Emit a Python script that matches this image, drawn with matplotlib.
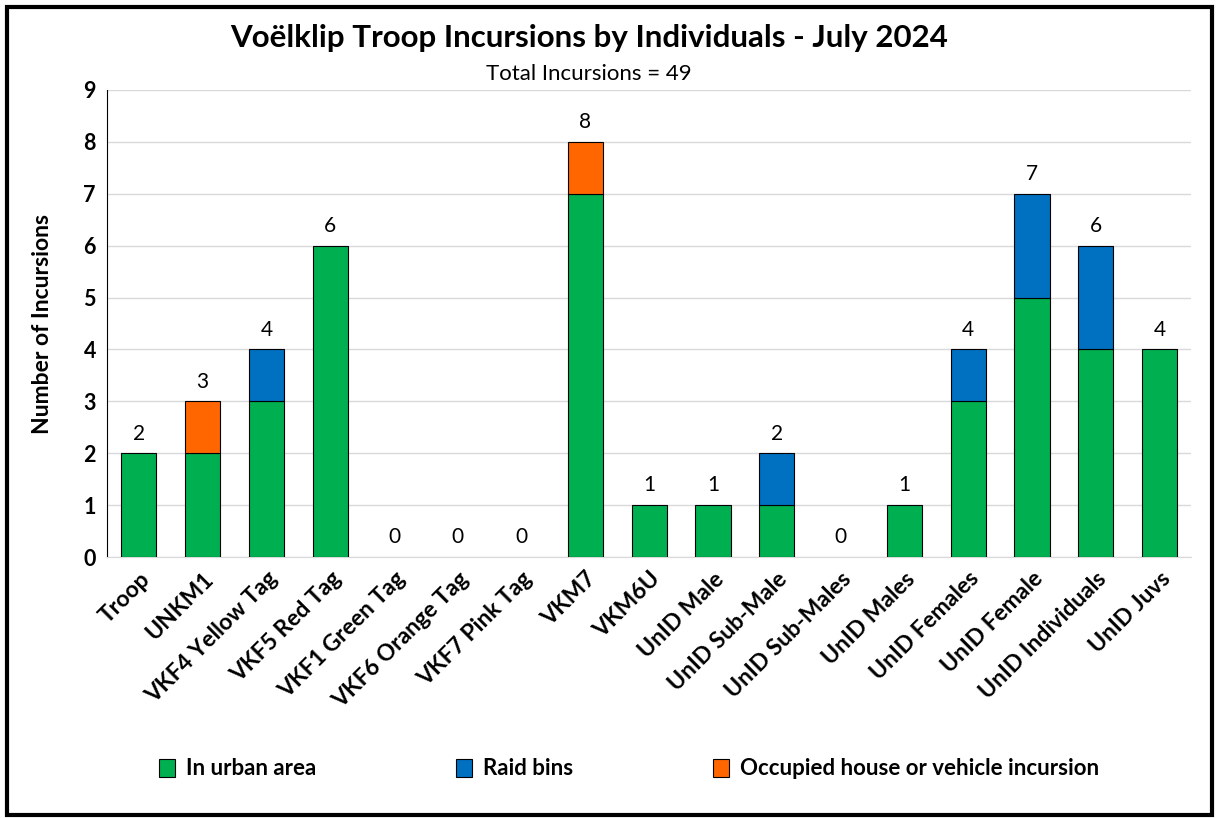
import matplotlib
matplotlib.use("Agg")
import matplotlib.pyplot as plt
from matplotlib.patches import Rectangle, Patch
import numpy as np

plt.rcParams['font.family'] = ['Lato', 'DejaVu Sans']

categories = ["Troop", "UNKM1", "VKF4 Yellow Tag", "VKF5 Red Tag", "VKF1 Green Tag",
              "VKF6 Orange Tag", "VKF7 Pink Tag", "VKM7", "VKM6U", "UnID Male",
              "UnID Sub-Male", "UnID Sub-Males", "UnID Males", "UnID Females",
              "UnID Female", "UnID Individuals", "UnID Juvs"]
urban = [2, 2, 3, 6, 0, 0, 0, 7, 1, 1, 1, 0, 1, 3, 5, 4, 4]
raid = [0, 0, 1, 0, 0, 0, 0, 0, 0, 0, 1, 0, 0, 1, 2, 2, 0]
occupied = [0, 1, 0, 0, 0, 0, 0, 1, 0, 0, 0, 0, 0, 0, 0, 0, 0]
series_names = ["In urban area", "Raid bins", "Occupied house or vehicle incursion"]
colors = ["#00B050", "#0070C0", "#FF6600"]

fig = plt.figure(figsize=(12.17, 8.18), dpi=100)
ax = fig.add_axes([0.0879, 0.319, 0.979 - 0.0879, 0.89 - 0.319])

x = np.arange(len(categories))
w = 0.55
u = np.array(urban); r = np.array(raid); o = np.array(occupied)
ax.bar(x, u, w, color=colors[0], edgecolor="black", linewidth=0.8, zorder=3)
ax.bar(x, r, w, bottom=u, color=colors[1], edgecolor="black", linewidth=0.8, zorder=3)
ax.bar(x, o, w, bottom=u + r, color=colors[2], edgecolor="black", linewidth=0.8, zorder=3)
for c in ax.patches:
    if c.get_height() == 0:
        c.set_visible(False)

totals = u + r + o
for xi, t in zip(x, totals):
    ax.annotate(str(t), (xi, t), xytext=(0, 7), textcoords="offset points",
                ha="center", va="bottom", fontsize=15)

ax.set_xlim(-0.5, len(categories) - 0.5)
ax.set_ylim(0, 9)
ax.set_yticks(range(0, 10))
ax.yaxis.grid(True, color="#D9D9D9", linewidth=1, zorder=0)
ax.set_axisbelow(True)
for s in ["top", "right"]:
    ax.spines[s].set_visible(False)
ax.spines["left"].set_color("black")
ax.spines["bottom"].set_color("#D9D9D9")
ax.tick_params(axis="y", length=0, labelsize=15.5, pad=8)
ax.tick_params(axis="x", length=0, labelsize=16.5, pad=8)
for lab in ax.get_yticklabels():
    lab.set_fontweight("bold")
ax.set_xticks(x)
ax.set_xticklabels(categories, rotation=45, ha="right", rotation_mode="anchor",
                   fontweight="bold", fontsize=16.5)
ax.set_ylabel("Number of Incursions", fontsize=16.5, fontweight="bold", labelpad=22)

fig.text(0.484, 0.953, "Voëlklip Troop Incursions by Individuals - July 2024",
         ha="center", va="center", fontsize=22.5, fontweight="bold")
fig.text(0.484, 0.91, "Total Incursions = 49", ha="center", va="center", fontsize=16)

handles = [Patch(facecolor=c, edgecolor="black", linewidth=0.8) for c in colors]
fig.legend(handles, series_names, loc="center", bbox_to_anchor=(0.517, 0.06), ncol=3,
           frameon=False, prop={"weight": "bold", "size": 16}, handlelength=0.7,
           handleheight=0.9, handletextpad=0.5, columnspacing=6.3)

fig.patches.append(Rectangle((0.006, 0.004), 0.99, 0.988, transform=fig.transFigure,
                             fill=False, edgecolor="black", linewidth=3))

fig.savefig("out.png", dpi=100)
